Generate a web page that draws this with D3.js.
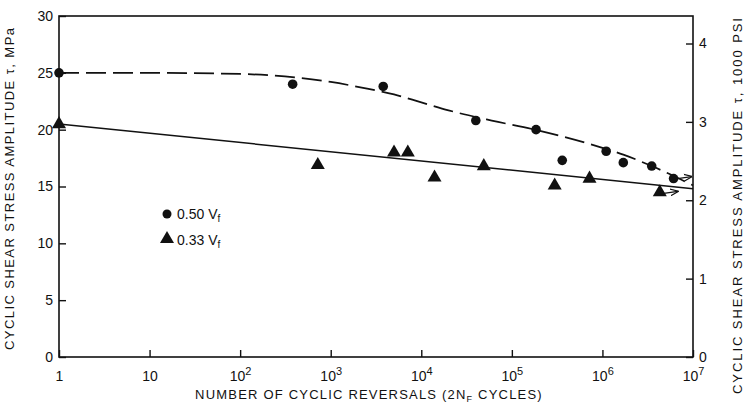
<!DOCTYPE html>
<html>
<head>
<meta charset="utf-8">
<script src="https://cdn.jsdelivr.net/npm/d3@7"></script>
<style>
  body { margin: 0; background: #fff; }
  svg { font-family: "Liberation Sans", Arial, sans-serif; }
  .tick text { font-size: 14px; fill: #111; }
  .title { font-size: 13px; fill: #111; }
</style>
</head>
<body>
<svg id="chart" width="748" height="411"></svg>
<script>
// 0.50 Vf (circles): cycles, tau MPa
const circleN   = [1, 380, 3800, 40000, 185000, 360000, 1.1e6, 1.7e6, 3.5e6, 6.1e6];
const circleTau = [25, 24.0, 23.8, 20.8, 20.0, 17.3, 18.1, 17.1, 16.8, 15.7];

// 0.33 Vf (triangles)
const triN   = [1, 720, 5000, 7100, 14000, 49000, 297000, 720000, 4.3e6];
const triTau = [20.4, 16.8, 17.9, 17.9, 15.7, 16.7, 15.0, 15.6, 14.4];

// dashed fit for 0.50 Vf
const dashN   = [1, 10, 100, 400, 1000, 2200, 5000, 10000, 20000, 60000, 180000, 1e6, 1.7e6, 3.5e6, 1e7];
const dashTau = [25, 25, 24.9, 24.6, 24.2, 23.7, 23.1, 22.4, 21.7, 20.8, 20.0, 18.4, 17.8, 16.8, 15.1];

// solid fit for 0.33 Vf
const lineN   = [1, 1e7];
const lineTau = [20.5, 14.8];

// runout arrows (point index into the series)
const circleRunout = [9];
const triRunout = [8];

const xTicks = [1, 10, 1e2, 1e3, 1e4, 1e5, 1e6, 1e7];
const yTicks = [0, 5, 10, 15, 20, 25, 30];
const ksiTicks = [0, 1, 2, 3, 4];

const MPA_PER_KSI = 6.895;

const svg = d3.select("#chart");
const m = {left: 59, right: 693, top: 16, bottom: 357};

const x = d3.scaleLog().domain([1, 1e7]).range([m.left, m.right]);
const y = d3.scaleLinear().domain([0, 30]).range([m.bottom, m.top]);
const yKsi = d3.scaleLinear().domain([0, 30 / MPA_PER_KSI]).range([m.bottom, m.top]);

// frame
svg.append("rect")
  .attr("x", m.left).attr("y", m.top)
  .attr("width", m.right - m.left).attr("height", m.bottom - m.top)
  .attr("fill", "none").attr("stroke", "#111").attr("stroke-width", 1.6);

// x axis
const xAxis = svg.append("g")
  .attr("transform", "translate(0," + m.bottom + ")")
  .call(d3.axisTop(x).tickValues(xTicks).tickSize(7).tickFormat(""));
xAxis.select(".domain").remove();
xAxis.selectAll(".tick line").attr("stroke", "#111").attr("stroke-width", 1.4);
xAxis.selectAll(".tick text").remove();
xAxis.selectAll(".tick").each(function(d) {
  const e = Math.round(Math.log10(d));
  const t = d3.select(this).append("text")
    .attr("y", 24).attr("text-anchor", "middle").attr("fill", "#111");
  if (e === 0) t.text("1");
  else if (e === 1) t.text("10");
  else {
    t.append("tspan").text("10");
    t.append("tspan").attr("dy", -6).attr("font-size", 11).text(String(e));
  }
});

// left axis
const yAxis = svg.append("g")
  .attr("transform", "translate(" + m.left + ",0)")
  .call(d3.axisRight(y).tickValues(yTicks).tickSize(7));
yAxis.select(".domain").remove();
yAxis.selectAll(".tick line").attr("stroke", "#111").attr("stroke-width", 1.4);
yAxis.selectAll(".tick text").attr("x", -6).attr("text-anchor", "end");

// right axis (1000 psi)
const rAxis = svg.append("g")
  .attr("transform", "translate(" + m.right + ",0)")
  .call(d3.axisLeft(yKsi).tickValues(ksiTicks).tickSize(7).tickFormat(d3.format("d")));
rAxis.select(".domain").remove();
rAxis.selectAll(".tick line").attr("stroke", "#111").attr("stroke-width", 1.4);
rAxis.selectAll(".tick text").attr("x", 6).attr("text-anchor", "start");

// fit curves
const curve = d3.line()
  .x(d => x(d[0])).y(d => y(d[1]))
  .curve(d3.curveMonotoneX);

svg.append("path")
  .datum(d3.zip(dashN, dashTau))
  .attr("d", curve)
  .attr("fill", "none").attr("stroke", "#111").attr("stroke-width", 1.7)
  .attr("stroke-dasharray", "20,7");

svg.append("path")
  .datum(d3.zip(lineN, lineTau))
  .attr("d", curve)
  .attr("fill", "none").attr("stroke", "#111").attr("stroke-width", 1.5);

// points
svg.append("g").selectAll("circle")
  .data(d3.zip(circleN, circleTau))
  .join("circle")
  .attr("cx", d => x(d[0])).attr("cy", d => y(d[1]))
  .attr("r", 4.8).attr("fill", "#111");

const tri = d3.symbol().type(d3.symbolTriangle).size(85);
svg.append("g").selectAll("path")
  .data(d3.zip(triN, triTau))
  .join("path")
  .attr("d", tri)
  .attr("transform", d => "translate(" + x(d[0]) + "," + (y(d[1]) - 1) + ")")
  .attr("fill", "#111");

// runout arrows
svg.append("defs").append("marker")
  .attr("id", "arr").attr("viewBox", "0 0 10 10")
  .attr("refX", 9).attr("refY", 5)
  .attr("markerWidth", 7).attr("markerHeight", 7)
  .attr("orient", "auto")
  .append("path").attr("d", "M0,1L10,5L0,9").attr("fill", "none").attr("stroke", "#111").attr("stroke-width", 1.5);

const runouts = circleRunout.map(i => [circleN[i], circleTau[i]])
  .concat(triRunout.map(i => [triN[i], triTau[i]]));
svg.append("g").selectAll("line")
  .data(runouts)
  .join("line")
  .attr("x1", d => x(d[0]) + 4).attr("y1", d => y(d[1]))
  .attr("x2", d => x(d[0]) + 18).attr("y2", d => y(d[1]) - 2)
  .attr("stroke", "#111").attr("stroke-width", 1.2)
  .attr("marker-end", "url(#arr)");

// legend
const legend = svg.append("g").attr("transform", "translate(167,214)");
legend.append("circle").attr("cx", 0).attr("cy", 0).attr("r", 4.5).attr("fill", "#111");
const l1 = legend.append("text").attr("x", 10).attr("y", 5).attr("font-size", 14).attr("fill", "#111");
l1.append("tspan").text("0.50 V");
l1.append("tspan").attr("dy", 3).attr("font-size", 10).text("f");
legend.append("path").attr("d", tri).attr("transform", "translate(0,25)").attr("fill", "#111");
const l2 = legend.append("text").attr("x", 10).attr("y", 31).attr("font-size", 14).attr("fill", "#111");
l2.append("tspan").text("0.33 V");
l2.append("tspan").attr("dy", 3).attr("font-size", 10).text("f");

// axis titles
svg.append("text").attr("class", "title")
  .attr("transform", "translate(14,189) rotate(-90)")
  .attr("text-anchor", "middle")
  .attr("textLength", 322).attr("lengthAdjust", "spacing")
  .text("CYCLIC SHEAR STRESS AMPLITUDE \u03c4, MPa");

svg.append("text").attr("class", "title")
  .attr("transform", "translate(742,206) rotate(-90)")
  .attr("text-anchor", "middle")
  .attr("textLength", 376).attr("lengthAdjust", "spacing")
  .text("CYCLIC SHEAR STRESS AMPLITUDE \u03c4, 1000 PSI");

const xt = svg.append("text").attr("class", "title")
  .attr("x", 369).attr("y", 399).attr("text-anchor", "middle")
  .attr("font-size", 14).attr("letter-spacing", 1.2);
xt.append("tspan").text("NUMBER OF CYCLIC REVERSALS (2N");
xt.append("tspan").attr("dy", 3).attr("font-size", 9).text("F");
xt.append("tspan").attr("dy", -3).text(" CYCLES)");
</script>
</body>
</html>
